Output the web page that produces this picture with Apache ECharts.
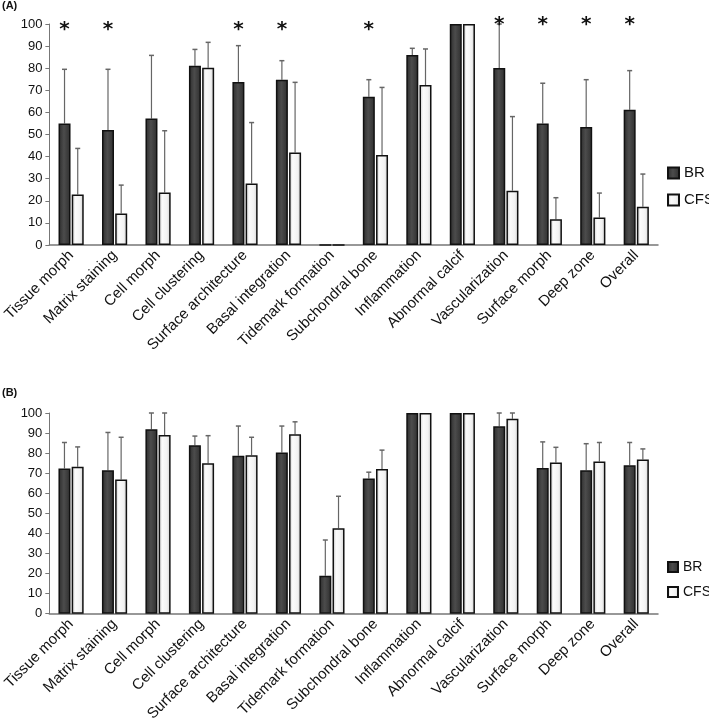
<!DOCTYPE html>
<html>
<head>
<meta charset="utf-8">
<script src="https://cdn.jsdelivr.net/npm/echarts@6/dist/echarts.min.js"></script>
<style>
html,body{margin:0;padding:0;background:#fff;}
#chart{width:709px;height:724px;}
</style>
</head>
<body>
<div id="chart"></div>
<script>
// ---------- data ----------
const categories = ['Tissue morph','Matrix staining','Cell morph','Cell clustering','Surface architecture','Basal integration','Tidemark formation','Subchondral bone','Inflammation','Abnormal calcif','Vascularization','Surface morph','Deep zone','Overall'];
const yTicks = [0,10,20,30,40,50,60,70,80,90,100];

// Panel A
const brA     = [55.0, 52.0, 57.2, 81.1, 73.8, 74.8, 0, 67.1, 86.0, 100, 80.1, 55.0, 53.4, 61.2];
const brAErr  = [24.5, 27.5, 28.6, 7.4, 16.4, 8.6, 0, 7.7, 3.0, 0, 19.9, 18.2, 21.4, 17.7];
const cfsA    = [22.9, 14.3, 23.7, 80.2, 27.8, 41.9, 0, 40.7, 72.4, 100, 24.6, 11.6, 12.4, 17.3];
const cfsAErr = [20.8, 12.8, 28.0, 11.5, 27.6, 31.7, 0, 30.6, 16.3, 0, 33.5, 9.8, 11.1, 14.8];
// significance markers (height in value units where the * sits, null = none)
const starA   = [100, 100, null, null, 100, 100, null, 100, null, null, 102.5, 102.5, 102.5, 102.5];

// Panel B
const brB     = [72.4, 71.5, 91.9, 83.9, 78.7, 80.3, 18.9, 67.4, 100, 100, 93.4, 72.6, 71.5, 74.0];
const brBErr  = [12.9, 18.8, 8.1, 4.6, 14.8, 13.2, 17.8, 3.1, 0, 0, 6.6, 13.0, 13.2, 11.3];
const cfsB    = [73.2, 66.8, 89.0, 75.0, 79.0, 89.4, 42.6, 72.1, 100, 100, 97.1, 75.3, 75.8, 76.8];
const cfsBErr = [9.9, 21.1, 11.0, 13.7, 8.9, 6.2, 15.9, 9.4, 0, 0, 2.9, 7.6, 9.5, 5.3];

// ---------- styling ----------
const BAR_W = 12, OFF = 6.6;
const brStyle = {
  color: new echarts.graphic.LinearGradient(0,0,1,0,[
    {offset:0,color:'#2c2c2c'},{offset:0.45,color:'#4c4c4c'},{offset:1,color:'#2e2e2e'}]),
  borderColor:'#111', borderWidth:1.5
};
const cfsStyle = {
  color: new echarts.graphic.LinearGradient(0,0,1,0,[
    {offset:0,color:'#c4c4c4'},{offset:0.3,color:'#fbfbfb'},{offset:0.7,color:'#f2f2f2'},{offset:1,color:'#cdcdcd'}]),
  borderColor:'#111', borderWidth:1.5
};

function errRender(offset){
  return function(params, api){
    const i = api.value(0), m = api.value(1), h = api.value(2);
    if (!(h > m)) return null;
    const p0 = api.coord([i, m]), p1 = api.coord([i, h]);
    const x = p0[0] + offset;
    return {type:'group', children:[
      {type:'line', shape:{x1:x,y1:p0[1],x2:x,y2:p1[1]}, style:{stroke:'#666',lineWidth:1.2}},
      {type:'line', shape:{x1:x-2.5,y1:p1[1],x2:x+2.5,y2:p1[1]}, style:{stroke:'#666',lineWidth:1.5}}
    ]};
  };
}
function starRender(params, api){
  const p = api.coord([api.value(0), api.value(1)]);
  return {type:'text', x:p[0]-OFF, y:p[1]+6, style:{text:'*', fontSize:20, fontWeight:'bold',
    fontFamily:'DejaVu Sans', fill:'#111', align:'center', verticalAlign:'middle'}};
}

function yAxis(gi){
  return {type:'value', gridIndex:gi, min:0, max:100, interval:10,
    axisLine:{show:true, lineStyle:{color:'#777', width:1}},
    axisTick:{show:true, length:4, lineStyle:{color:'#777'}},
    splitLine:{show:false},
    axisLabel:{color:'#111', fontSize:13, fontFamily:'Liberation Sans', margin:7,
      formatter: v => yTicks.includes(v) ? String(v) : ''}};
}
function xAxis(gi){
  return {type:'category', gridIndex:gi, data:categories,
    axisLine:{show:true, lineStyle:{color:'#777', width:1.5}},
    axisTick:{show:false},
    axisLabel:{interval:0, rotate:45, color:'#111', fontSize:15, fontFamily:'Liberation Sans', margin:8}};
}
function panelSeries(gi, br, brErr, cfs, cfsErr){
  return [
    {name:'BR', type:'bar', xAxisIndex:gi, yAxisIndex:gi, data:br, barWidth:BAR_W, barGap:'10%', itemStyle:brStyle},
    {name:'CFS', type:'bar', xAxisIndex:gi, yAxisIndex:gi, data:cfs, barWidth:BAR_W, barGap:'10%', itemStyle:cfsStyle},
    {name:'errBR'+gi, type:'custom', xAxisIndex:gi, yAxisIndex:gi, renderItem:errRender(-OFF), clip:false, z:1,
      data: br.map((v,i)=>[i, v, v+brErr[i]])},
    {name:'errCFS'+gi, type:'custom', xAxisIndex:gi, yAxisIndex:gi, renderItem:errRender(OFF), clip:false, z:1,
      data: cfs.map((v,i)=>[i, v, v+cfsErr[i]])}
  ];
}

const chart = echarts.init(document.getElementById('chart'), null, {renderer:'canvas'});
const series = [
  ...panelSeries(0, brA, brAErr, cfsA, cfsAErr),
  ...panelSeries(1, brB, brBErr, cfsB, cfsBErr),
  {name:'stars', type:'custom', xAxisIndex:0, yAxisIndex:0, renderItem:starRender, clip:false, z:5,
    data: starA.map((v,i)=> v==null ? null : [i, v]).filter(d=>d)}
];
chart.setOption({
  animation:false,
  textStyle:{fontFamily:'Liberation Sans'},
  grid:[
    {left:45, top:24, width:613, height:221, containLabel:false},
    {left:43, top:413, width:615, height:207, containLabel:false}
  ],
  xAxis:[xAxis(0), xAxis(1)],
  yAxis:[yAxis(0), yAxis(1)],
  legend:[
    {data:['BR','CFS'], icon:'rect', left:667, top:165.5, padding:0, orient:'vertical', itemWidth:11, itemHeight:11, itemGap:12,
      selectedMode:false, textStyle:{fontSize:15, lineHeight:15, color:'#111'}},
    {data:['BR','CFS'], icon:'rect', left:667, top:560, padding:0, orient:'vertical', itemWidth:10, itemHeight:10, itemGap:11,
      selectedMode:false, textStyle:{fontSize:14, lineHeight:14, color:'#111'}}
  ],
  graphic:[
    {type:'text', left:2, top:0, style:{text:'(A)', fontSize:11, fontWeight:'bold', fill:'#111', fontFamily:'Liberation Sans'}},
    {type:'text', left:2, top:387, style:{text:'(B)', fontSize:11, fontWeight:'bold', fill:'#111', fontFamily:'Liberation Sans'}}
  ],
  series: series
});
</script>
</body>
</html>
